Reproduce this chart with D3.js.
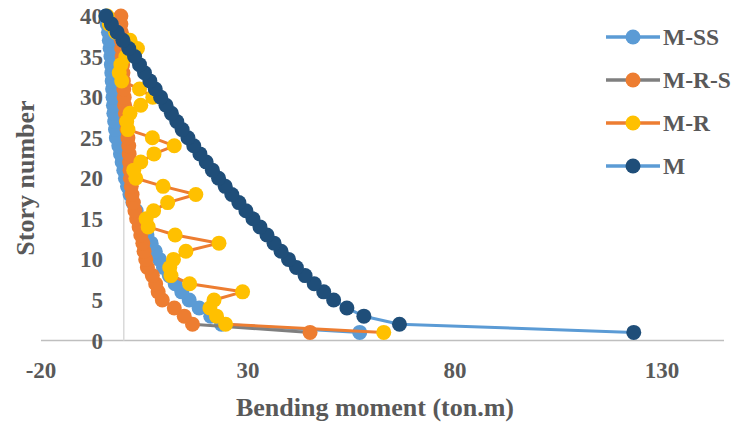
<!DOCTYPE html>
<html>
<head>
<meta charset="utf-8">
<script src="https://cdn.jsdelivr.net/npm/d3@7"></script>
<style>
  html, body { margin: 0; padding: 0; background: #fff; }
  svg text { font-family: "Liberation Serif", "Times New Roman", serif; font-weight: bold; fill: #595959; }
</style>
</head>
<body>
<svg id="chart" width="733" height="424"></svg>
<script>
// data ------------------------------------------------------------------
const stories = [1, 2, 3, 4, 5, 6, 7, 8, 9, 10, 11, 12, 13, 14, 15, 16, 17, 18, 19, 20,
  21, 22, 23, 24, 25, 26, 27, 28, 29, 30, 31, 32, 33, 34, 35, 36, 37, 38, 39, 40];

const momentSS = [57.0, 23.6, 21.0, 18.2, 15.8, 14.0, 12.4, 11.0, 9.6, 8.6,
  7.6, 6.6, 5.6, 4.7, 3.8, 3.0, 2.2, 1.5, 0.9, 0.4,
  0.0, -0.4, -0.8, -1.2, -1.8, -2.0, -2.2, -2.4, -2.5, -2.6,
  -2.7, -2.8, -2.9, -3.0, -3.1, -3.3, -3.5, -3.7, -4.0, -4.3];

const momentRS = [45.0, 16.6, 14.6, 12.2, 9.3, 8.3, 7.7, 6.9, 5.7, 5.3,
  4.9, 4.6, 4.1, 3.7, 3.1, 2.7, 2.3, 2.0, 1.8, 1.6,
  1.5, 1.4, 1.3, 1.2, 1.0, 0.8, 0.6, 0.4, 0.2, 0.1,
  0.0, -0.1, -0.2, -0.3, -0.4, -0.5, -0.6, -0.6, -0.7, -0.7];

const momentR = [62.8, 24.6, 22.4, 20.8, 21.8, 28.7, 15.9, 11.4, 11.1, 12.0,
  15.0, 23.0, 12.4, 5.9, 5.4, 7.2, 10.6, 17.4, 9.5, 2.9,
  2.4, 4.1, 7.3, 12.2, 6.9, 1.0, 0.7, 1.5, 4.1, 7.0,
  3.8, -0.5, -1.1, -0.7, 0.5, 3.3, 1.5, -2.0, -3.5, -4.0];

const momentM = [123.2, 66.6, 58.0, 53.9, 50.7, 48.3, 46.0, 43.8, 41.7, 39.8,
  38.0, 36.3, 34.6, 32.9, 31.2, 29.5, 27.8, 26.1, 24.5, 22.9,
  21.4, 19.9, 18.4, 16.9, 15.5, 14.1, 12.8, 11.5, 10.2, 8.9,
  7.6, 6.3, 5.0, 3.8, 2.6, 1.2, -0.2, -1.6, -3.0, -4.3];

const seriesNames = ['M-SS', 'M-R-S', 'M-R', 'M'];
const xTicks = [-20, 30, 80, 130];
const yTicks = [0, 5, 10, 15, 20, 25, 30, 35, 40];

// series table (styles kept apart from the values)
const lineColors = ['#5B9BD5', '#7F7F7F', '#ED7D31', '#5B9BD5'];
const markerColors = ['#5B9BD5', '#ED7D31', '#FFC000', '#1F4E79'];
const seriesValues = [momentSS, momentRS, momentR, momentM];
const series = seriesNames.map((name, i) => ({
  name,
  line: lineColors[i],
  marker: markerColors[i],
  points: stories.map((s, j) => ({ story: s, moment: seriesValues[i][j] }))
}));

// layout --------------------------------------------------------------
const svg = d3.select('#chart');
const x = d3.scaleLinear().domain([-20, 145]).range([41, 724]);
const y = d3.scaleLinear().domain([0, 40]).range([340.5, 16]);
const r = 7.5;

// axis lines (Excel style: horizontal at story 0, vertical at moment 0)
svg.append('line')
  .attr('x1', x(-20)).attr('x2', x(145))
  .attr('y1', y(0)).attr('y2', y(0))
  .style('stroke', '#BFBFBF').style('stroke-width', 1.5);

// tick labels
svg.append('g').selectAll('text').data(yTicks).join('text')
  .attr('x', 103)
  .attr('y', (d) => y(d))
  .attr('dy', '0.35em')
  .attr('text-anchor', 'end')
  .style('font-size', '23px')
  .text((d) => d);

svg.append('g').selectAll('text').data(xTicks).join('text')
  .attr('x', (d) => x(d))
  .attr('y', 370)
  .attr('dy', '0.35em')
  .attr('text-anchor', 'middle')
  .style('font-size', '23px')
  .text((d) => d);

svg.append('line')
  .attr('x1', x(0)).attr('x2', x(0))
  .attr('y1', y(0)).attr('y2', y(40))
  .style('stroke', '#D9D9D9').style('stroke-width', 1.5);

// axis titles
svg.append('text')
  .attr('x', 375).attr('y', 407)
  .attr('dy', '0.35em')
  .attr('text-anchor', 'middle')
  .style('font-size', '26px')
  .text('Bending moment (ton.m)');

svg.append('text')
  .attr('transform', `translate(25,178) rotate(-90)`)
  .attr('dy', '0.35em')
  .attr('text-anchor', 'middle')
  .style('font-size', '26px')
  .text('Story number');

// series: lines + markers, later series on top
const line = d3.line().x((d) => x(d.moment)).y((d) => y(d.story));

const groups = svg.append('g').selectAll('g').data(series).join('g');

groups.append('path')
  .attr('d', (d) => line(d.points))
  .style('fill', 'none')
  .style('stroke', (d) => d.line)
  .style('stroke-width', 3)
  .style('stroke-linejoin', 'round');

groups.selectAll('circle').data((d) => d.points.map((p) => ({ ...p, color: d.marker }))).join('circle')
  .attr('cx', (d) => x(d.moment))
  .attr('cy', (d) => y(d.story))
  .attr('r', r)
  .style('fill', (d) => d.color);

// legend
const legend = svg.append('g').selectAll('g').data(series).join('g')
  .attr('transform', (d, i) => `translate(606,${37 + i * 43})`);

legend.append('line')
  .attr('x1', 0).attr('x2', 54)
  .style('stroke', (d) => d.line)
  .style('stroke-width', 3.5);

legend.append('circle')
  .attr('cx', 27)
  .attr('r', r)
  .style('fill', (d) => d.marker);

legend.append('text')
  .attr('x', 57)
  .attr('dy', '0.35em')
  .style('font-size', '23.5px')
  .text((d) => d.name);
</script>
</body>
</html>
